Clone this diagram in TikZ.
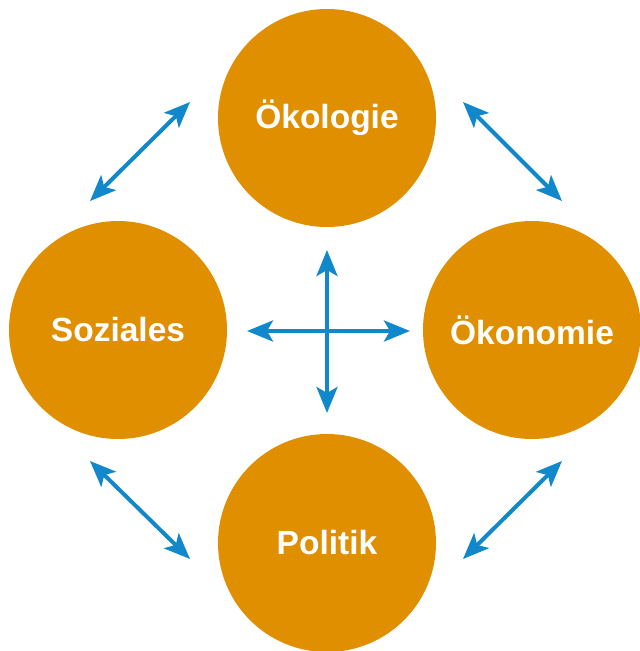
\documentclass[tikz,border=0pt]{standalone}
\usepackage{fontspec}
\setmainfont{Liberation Sans}
\usetikzlibrary{arrows.meta}
\definecolor{orng}{HTML}{E08F00}
\definecolor{arrblue}{HTML}{1188CC}
\begin{document}
\begin{tikzpicture}[x=1pt,y=-1pt,
  pillar/.style={circle,fill=orng,minimum size=218pt,inner sep=0pt,text=white,font=\fontsize{33.5}{38}\selectfont\bfseries},
  link/.style={draw=arrblue,line width=4pt,{Stealth[length=26pt,width=21pt,inset=6pt]}-{Stealth[length=26pt,width=21pt,inset=6pt]}}]
\useasboundingbox (0,0) rectangle (640,651);
\begin{scope}
\clip (0,0) rectangle (640,651);
\node[pillar] (oek) at (327,118) {Ökologie};
\node[pillar] (soz) at (118,330) {Soziales};
\node[pillar] (okn) at (532,330) {Ökonomie};
\node[pillar] (pol) at (327,543) {Politik};
\end{scope}
\coordinate (a1) at (190,102);
\coordinate (a2) at (90,201);
\coordinate (b1) at (463,102);
\coordinate (b2) at (562,201);
\coordinate (c1) at (90,461);
\coordinate (c2) at (190,559);
\coordinate (d1) at (463,559);
\coordinate (d2) at (562,461);
\coordinate (v1) at (327,250);
\coordinate (v2) at (327,413);
\coordinate (h1) at (247,331);
\coordinate (h2) at (410,331);
\draw[link] (a1) -- (a2);
\draw[link] (b1) -- (b2);
\draw[link] (c1) -- (c2);
\draw[link] (d1) -- (d2);
\draw[link] (v1) -- (v2);
\draw[link] (h1) -- (h2);
\end{tikzpicture}
\end{document}
